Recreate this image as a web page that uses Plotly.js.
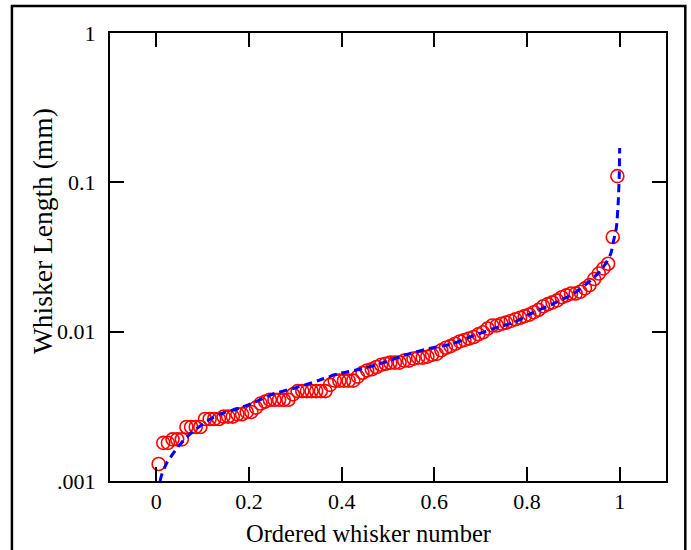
<!DOCTYPE html>
<html>
<head>
<meta charset="utf-8">
<script src="https://cdn.plot.ly/plotly-3.0.1.min.js"></script>
<style>html,body{margin:0;padding:0;background:#fff;}#chart{width:691px;height:550px;}</style>
</head>
<body>
<div id="chart"></div>
<script>
// Measured whisker lengths (mm), sorted ascending
const whiskerLengths = [
  0.0013, 0.0018, 0.0018, 0.0019, 0.0019, 0.0019, 0.0023, 0.0023, 0.0023, 0.0023,
  0.0026, 0.0026, 0.0026, 0.0026, 0.0027, 0.0027, 0.0027, 0.0028, 0.0028, 0.0029,
  0.0029, 0.0031, 0.0033, 0.0034, 0.0035, 0.0035, 0.0035, 0.0035, 0.0035, 0.0038,
  0.0040, 0.0040, 0.0040, 0.0040, 0.0040, 0.0040, 0.0040, 0.0044, 0.0047, 0.0047,
  0.0047, 0.0047, 0.0047, 0.0050, 0.0053, 0.0055, 0.0056, 0.0058, 0.0060, 0.0061,
  0.0062, 0.0062, 0.0062, 0.0064, 0.0064, 0.0066, 0.0067, 0.0067, 0.0068, 0.0070,
  0.0071, 0.0075, 0.0078, 0.0080, 0.0083, 0.0086, 0.0088, 0.0090, 0.0092, 0.0096,
  0.0099, 0.0105, 0.0110, 0.0110, 0.0113, 0.0115, 0.0118, 0.0121, 0.0124, 0.0127,
  0.0130, 0.0135, 0.0140, 0.0148, 0.0153, 0.0157, 0.0162, 0.0170, 0.0175, 0.0180,
  0.0180, 0.0185, 0.0195, 0.0205, 0.0225, 0.0245, 0.0265, 0.0285, 0.043, 0.11
];
// Ordered whisker number (rank fraction) for each measured whisker
const whiskerRank = whiskerLengths.map((_, i) => (i + 0.5) / whiskerLengths.length);

// Fitted curve, points
const fitX = [0.008, 0.012, 0.023, 0.037, 0.052, 0.073, 0.095, 0.121, 0.145, 0.181, 0.21,
  0.253, 0.300, 0.348, 0.393, 0.445, 0.490, 0.538, 0.588, 0.639, 0.685, 0.728, 0.771,
  0.808, 0.857, 0.901, 0.937, 0.955, 0.970, 0.981, 0.987, 0.993, 0.997, 0.999, 1.0];
const fitY = [0.00100, 0.00111, 0.00133, 0.00154, 0.00177, 0.00207, 0.00234, 0.00265, 0.00286, 0.00309, 0.00334,
  0.00384, 0.0042, 0.00469, 0.00523, 0.00565, 0.0062, 0.00701, 0.00769, 0.0083, 0.0094, 0.0105, 0.0115,
  0.0132, 0.0154, 0.018, 0.022, 0.0249, 0.0286, 0.0334, 0.0408, 0.05, 0.075, 0.11, 0.17];

const xTicks = [0, 0.2, 0.4, 0.6, 0.8, 1];
const xTickText = ['0', '0.2', '0.4', '0.6', '0.8', '1'];
const yTicks = [0.001, 0.01, 0.1, 1];
const yTickText = ['.001', '0.01', '0.1', '1'];
const xTitle = 'Ordered whisker number';
const yTitle = 'Whisker Length (mm)';

const serif = 'Liberation Serif, Times New Roman, serif';

const traces = [
  {
    x: whiskerRank, y: whiskerLengths, type: 'scatter', mode: 'markers',
    marker: {symbol: 'circle-open', size: 13, color: '#ff0000', line: {color: '#ff0000', width: 1.6}},
    hoverinfo: 'x+y', showlegend: false
  },
  {
    x: fitX, y: fitY, type: 'scatter', mode: 'lines',
    line: {color: '#0000ff', width: 3, dash: '8px,5px', shape: 'spline', smoothing: 0.6},
    showlegend: false
  }
];

const axisCommon = {
  showline: true, linecolor: '#000', linewidth: 2, mirror: 'ticks',
  ticks: 'inside', ticklen: 14, tickwidth: 2, tickcolor: '#000',
  showgrid: false, zeroline: false,
  tickfont: {family: serif, size: 22, color: '#000'}
};

const layout = {
  width: 691, height: 550,
  margin: {l: 110, r: 25, t: 33, b: 69},
  paper_bgcolor: '#fff', plot_bgcolor: '#fff',
  xaxis: Object.assign({}, axisCommon, {
    range: [-0.1, 1.1], tickmode: 'array', tickvals: xTicks, ticktext: xTickText,
    ticklabelstandoff: 0
  }),
  yaxis: Object.assign({}, axisCommon, {
    type: 'log', range: [-3, 0], tickmode: 'array', tickvals: yTicks, ticktext: yTickText,
    ticklabelstandoff: 8
  }),
  annotations: [
    {text: xTitle, xref: 'paper', yref: 'paper', x: 0.4643, y: -0.118,
     xanchor: 'center', yanchor: 'middle', showarrow: false,
     font: {family: serif, size: 24.5, color: '#000'}},
    {text: yTitle, xref: 'paper', yref: 'paper', x: -0.1224, y: 0.5577,
     xanchor: 'center', yanchor: 'middle', textangle: -90, showarrow: false,
     font: {family: serif, size: 27.5, color: '#000'}}
  ],
  shapes: [{
    type: 'rect', xref: 'paper', yref: 'paper',
    x0: -0.1764, x1: 1.0347, y0: -0.2, y1: 1.0603,
    line: {color: '#000', width: 2.5}, fillcolor: 'rgba(0,0,0,0)'
  }]
};

Plotly.newPlot('chart', traces, layout, {displayModeBar: false, staticPlot: true});
</script>
</body>
</html>
